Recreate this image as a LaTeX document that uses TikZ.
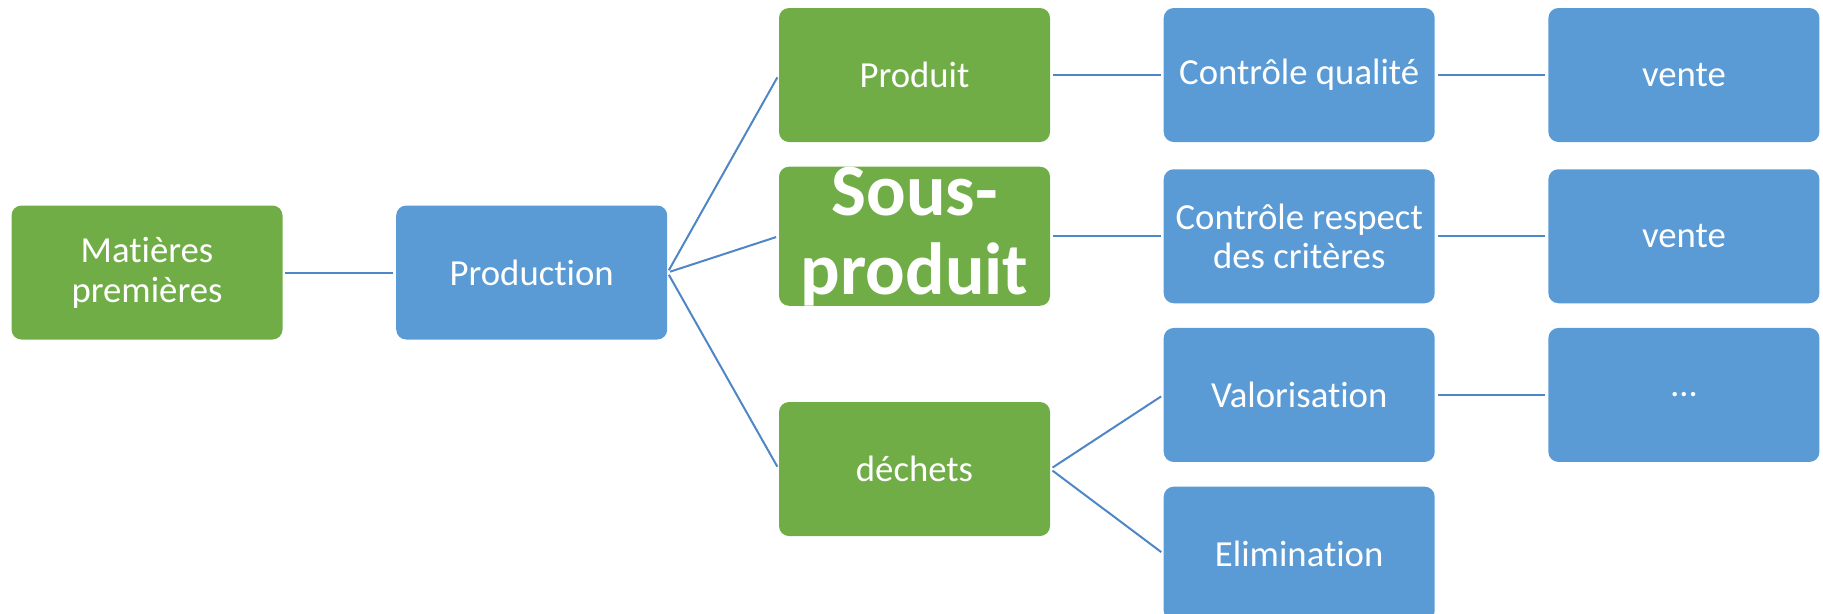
\documentclass[tikz,border=0pt]{standalone}
\usepackage{fontspec}
\setmainfont{Carlito}[Ligatures=NoCommon]
\usetikzlibrary{positioning}
\definecolor{boxgreen}{HTML}{70AD47}
\definecolor{boxblue}{HTML}{5B9BD5}
\definecolor{linkblue}{HTML}{4F86C6}

\tikzset{
	etape/.style={rectangle, rounded corners=0.2cm, minimum width=5.42cm, minimum height=2.68cm, inner sep=0pt, text=white, align=center, font=\fontsize{20.9}{22.6}\selectfont},
	vert/.style={etape, fill=boxgreen},
	bleu/.style={etape, fill=boxblue},
	lien/.style={draw=linkblue, line width=0.04cm, shorten <=1.5pt, shorten >=1.5pt},
}

\begin{document}
\begin{tikzpicture}[node distance=0.48cm and 2.26cm]
		\useasboundingbox (0,0) rectangle (36.46,-12.26);
		
		\node[vert] (matieres) at (2.94,-5.45) {Matières\\premières};
		\node[bleu, right=of matieres] (production) {Production};
		\node[vert] (produit) at (18.29,-1.5) {Produit};
		\node[vert, below=of produit, font=\bfseries\fontsize{42}{45}\selectfont] (sousproduit) {Sous-\\produit};
		\node[vert] (dechets) at (18.29,-9.38) {déchets};
		\node[bleu, right=of produit] (qualite) {Contrôle qualité};
		\node[bleu, right=of sousproduit] (criteres) {Contrôle respect\\des critères};
		\node[bleu, below=of criteres] (valorisation) {Valorisation};
		\node[bleu, below=of valorisation] (elimination) {Elimination};
		\node[bleu, right=of qualite] (vente1) {vente};
		\node[bleu, right=of criteres] (vente2) {vente};
		\node[bleu, right=of valorisation] (suite) {…};
		
		\draw[lien] (matieres) -- (production);
		\draw[lien] (production.east) -- (produit.west);
		\draw[lien] (production.east) -- (sousproduit.west);
		\draw[lien] (production.east) -- (dechets.west);
		\draw[lien] (produit) -- (qualite);
		\draw[lien] (sousproduit) -- (criteres);
		\draw[lien] (qualite) -- (vente1);
		\draw[lien] (criteres) -- (vente2);
		\draw[lien] (dechets.east) -- (valorisation.west);
		\draw[lien] (dechets.east) -- (elimination.west);
		\draw[lien] (valorisation) -- (suite);
	\end{tikzpicture}
\end{document}
